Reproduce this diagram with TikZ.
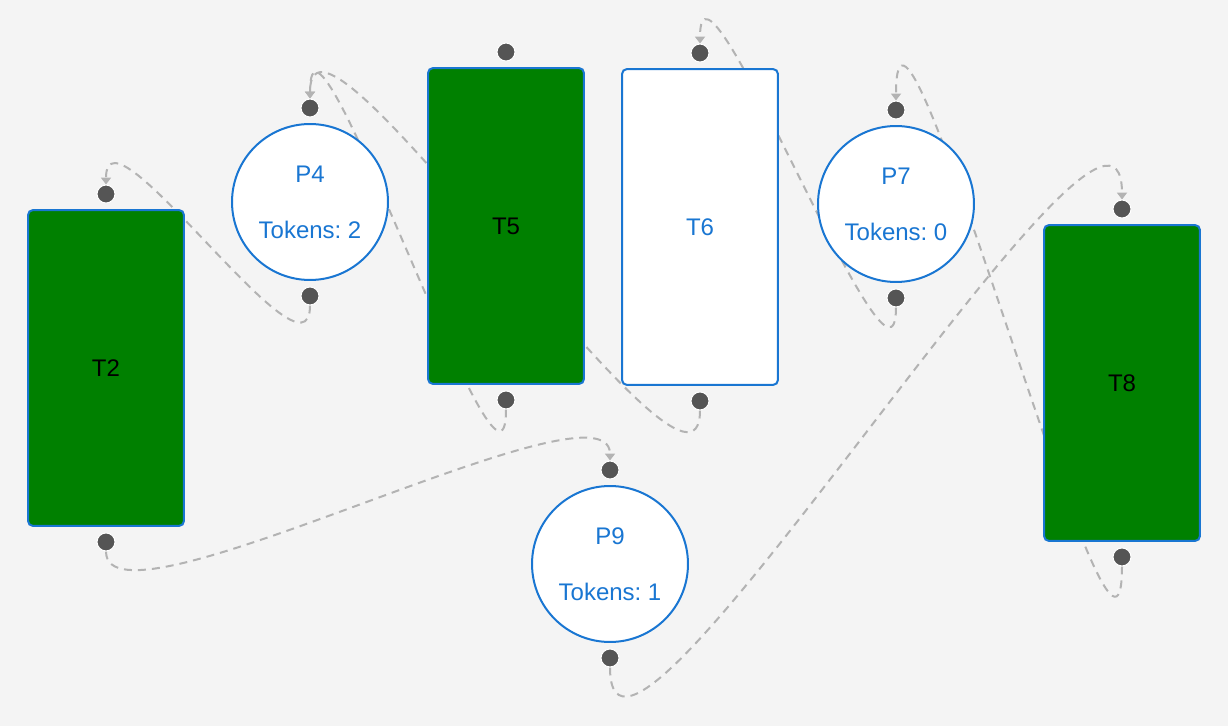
\documentclass[tikz,border=0pt]{standalone}
\usepackage{fontspec}
\setmainfont{Liberation Sans}
\usepackage{xcolor}
\usetikzlibrary{positioning, arrows.meta, backgrounds}
\frenchspacing

\definecolor{netgreen}{HTML}{008000}
\definecolor{netblue}{HTML}{1976D2}
\definecolor{portgray}{HTML}{555555}
\definecolor{flowgray}{HTML}{B3B3B3}
\definecolor{canvas}{HTML}{F4F4F4}

\begin{document}
\begin{tikzpicture}[
    x = 0.02cm, y = -0.02cm,
    every node/.style = {inner sep=0pt, font=\fontsize{13.66pt}{16pt}\selectfont},
    transition/.style = {
        draw=netblue, line width=0.04cm, rectangle, rounded corners=0.1cm,
        minimum width=3.12cm, minimum height=6.32cm, fill=netgreen
    },
    place/.style = {
        draw=netblue, line width=0.04cm, circle, minimum size=3.12cm, fill=white,
        text=netblue, align=center, font=\fontsize{13.66pt}{31.9pt}\selectfont
    },
    portdot/.style = {circle, fill=portgray, draw=white, line width=0.02cm, minimum size=0.36cm},
    flow/.style = {
        draw=flowgray, line width=0.04cm, dash pattern=on 0.16cm off 0.12cm,
        -{Triangle[width=0.2cm, length=0.14cm]}
    }
  ]
    \useasboundingbox (0,0) rectangle (1228,726);

    \node[transition] (t2) at (106,368) {T2};  % T2
    \node[place] (p4) at (310,202) {P4\\Tokens: 2};  % P4
    \node[transition] (t5) at (506,226) {T5};  % T5
    \node[transition, fill=white, text=netblue] (t6) at (700,227) {T6};  % T6
    \node[place] (p7) at (896,204) {P7\\Tokens: 0};  % P7
    \node[place] (p9) at (610,564) {P9\\Tokens: 1};  % P9
    \node[transition] (t8) at (1122,383) {T8};  % T8

    % ports
    \foreach \n in {t2, p4, t5, t6, p7, p9, t8} {
        \node[portdot, above=0.11cm of \n] (\n t) {};
        \node[portdot, below=0.11cm of \n] (\n b) {};
    }

    \begin{scope}[on background layer]
        \fill[canvas] (0,0) rectangle (1228,726);
        \draw[flow] (t2b) .. controls +(0,100) and +(0,-100) .. (p9t);
        \draw[flow] (p9b) .. controls +(0,205) and +(0,-205) .. (t8t);
        \draw[flow] (t8b) .. controls +(0,210) and +(0,-210) .. (p7t);
        \draw[flow] (p7b) .. controls +(0,135) and +(0,-135) .. (t6t);
        \draw[flow] (t6b) .. controls +(0,150) and +(0,-150) .. (p4t);
        \draw[flow] (t5b) .. controls +(0,150) and +(0,-150) .. (p4t);
        \draw[flow] (p4b) .. controls +(0,100) and +(0,-100) .. (t2t);
    \end{scope}
\end{tikzpicture}
\end{document}
